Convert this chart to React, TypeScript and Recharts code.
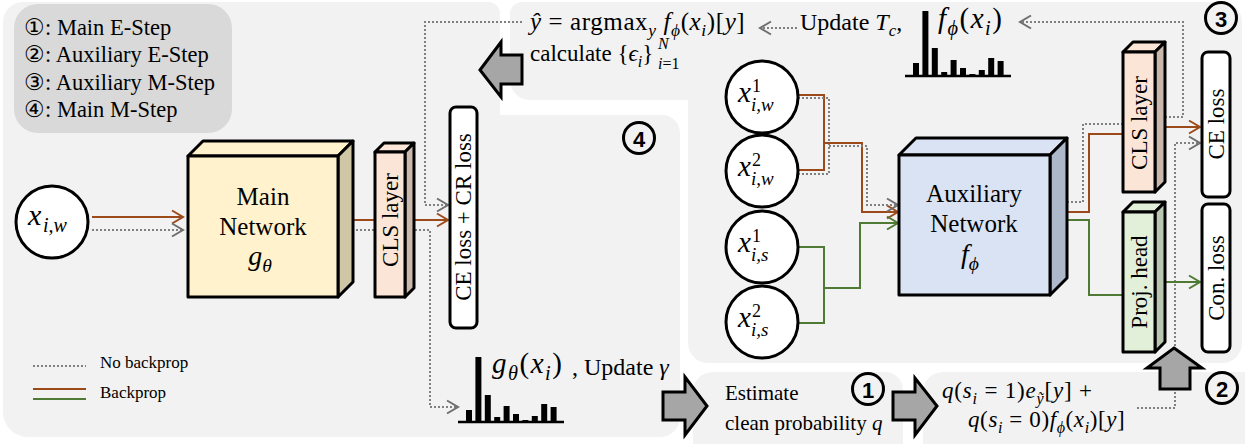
import { BarChart, Bar, XAxis, YAxis } from 'recharts';

// histogram data (class index -> probability, arbitrary units)
const HIST_CLASSES = ['c1', 'c2', 'c3', 'c4', 'c5', 'c6', 'c7', 'c8', 'c9', 'c10'];
const F_PHI_PROBS = [13, 65, 28, 4, 16, 8, 2, 6, 18, 15];
const G_THETA_PROBS = [12, 65, 27, 5, 16, 8, 2, 6, 18, 15];

const STEP_LABELS = ['①: Main E-Step', '②: Auxiliary E-Step', '③: Auxiliary M-Step', '④: Main M-Step'];
const LINE_LABELS = ['No backprop', 'Backprop'];

const SERIF = '"Liberation Serif", "DejaVu Serif", serif';
const BROWN = '#9c4a1a';
const GREEN = '#4f7a33';
const DOT = '#808080';
const PANEL = '#f2f2f2';

type Pt = [number, number];
type Part = { t: string; it?: boolean; sub?: boolean; sup?: boolean };

function MathText({ x, y, size, parts, anchor, spacing = 0 }: { x: number; y: number; size: number; parts: Part[]; anchor?: 'start' | 'middle' | 'end'; spacing?: number }) {
  let cur = 0;
  return (
    <text x={x} y={y} fontSize={size} textAnchor={anchor || 'start'} fill="#000" letterSpacing={spacing} style={{ fontFamily: SERIF }}>
      {parts.map((p, i) => {
        const target = p.sub ? size * 0.25 : p.sup ? -size * 0.38 : 0;
        const dy = target - cur;
        cur = target;
        return (
          <tspan key={i} dy={dy} fontStyle={p.it ? 'italic' : 'normal'} fontSize={p.sub || p.sup ? size * 0.7 : size}>
            {p.t}
          </tspan>
        );
      })}
    </text>
  );
}

function Wire({ pts, color, dotted, head }: { pts: Pt[]; color: string; dotted?: boolean; head?: boolean }) {
  const d = pts.map((p, i) => `${i ? 'L' : 'M'}${p[0]},${p[1]}`).join(' ');
  let arrow = null;
  if (head) {
    const [x1, y1] = pts[pts.length - 2];
    const [x2, y2] = pts[pts.length - 1];
    const len = Math.hypot(x2 - x1, y2 - y1) || 1;
    const ux = (x2 - x1) / len;
    const uy = (y2 - y1) / len;
    const px = -uy;
    const py = ux;
    const L = 11;
    const W = 6.5;
    arrow = (
      <polyline
        points={`${x2 - ux * L + px * W},${y2 - uy * L + py * W} ${x2},${y2} ${x2 - ux * L - px * W},${y2 - uy * L - py * W}`}
        fill="none"
        stroke={dotted ? '#6f6f6f' : color}
        strokeWidth={2}
      />
    );
  }
  return (
    <g>
      <path d={d} fill="none" stroke={color} strokeWidth={2} strokeDasharray={dotted ? '2 2' : undefined} />
      {arrow}
    </g>
  );
}

function Box3D({ x, y, w, h, d, front, side }: { x: number; y: number; w: number; h: number; d: number; front: string; side: string }) {
  const top = `${x},${y} ${x + d},${y - d} ${x + w + d},${y - d} ${x + w},${y}`;
  const sidePts = `${x + w},${y} ${x + w + d},${y - d} ${x + w + d},${y + h - d} ${x + w},${y + h}`;
  return (
    <g stroke="#000" strokeWidth={3} strokeLinejoin="round">
      <polygon points={top} fill={front} />
      <polygon points={sidePts} fill={side} />
      <rect x={x} y={y} width={w} height={h} fill={front} />
    </g>
  );
}

function Txt({ x, y, size, children, anchor }: { x: number; y: number; size: number; children: any; anchor?: 'start' | 'middle' | 'end' }) {
  return (
    <text x={x} y={y} fontSize={size} textAnchor={anchor || 'start'} style={{ fontFamily: SERIF }}>
      {children}
    </text>
  );
}

function VLabel({ cx, cy, text, size = 23 }: { cx: number; cy: number; text: string; size?: number }) {
  return (
    <text
      x={cx}
      y={cy}
      transform={`rotate(-90 ${cx} ${cy})`}
      textAnchor="middle"
      dominantBaseline="central"
      fontSize={size}
      style={{ fontFamily: SERIF }}
    >
      {text}
    </text>
  );
}

function Circled({ cx, cy, n }: { cx: number; cy: number; n: string }) {
  return (
    <g>
      <circle cx={cx} cy={cy} r={15.5} fill="none" stroke="#000" strokeWidth={3} />
      <text x={cx} y={cy + 1} textAnchor="middle" dominantBaseline="central" fontWeight="bold" fontSize={22} style={{ fontFamily: '"Liberation Sans", Arial, sans-serif' }}>
        {n}
      </text>
    </g>
  );
}

function Node({ cx, cy, sup, sub }: { cx: number; cy: number; sup?: string; sub: string }) {
  return (
    <g>
      <circle cx={cx} cy={cy} r={36} fill="#fff" stroke="#000" strokeWidth={3} />
      {sup ? (
        <g style={{ fontFamily: SERIF }} fontStyle="italic">
          <text x={cx - 24} y={cy + 5} fontSize={29}>x</text>
          <text x={cx - 10} y={cy - 5} fontSize={18} fontStyle="normal">{sup}</text>
          <text x={cx - 11} y={cy + 14} fontSize={19}>{sub}</text>
        </g>
      ) : (
        <g style={{ fontFamily: SERIF }} fontStyle="italic">
          <text x={cx - 24} y={cy + 3} fontSize={30}>x</text>
          <text x={cx - 9} y={cy + 10} fontSize={20}>{sub}</text>
        </g>
      )}
    </g>
  );
}

function Hist({ values, left, top }: { values: number[]; left: number; top: number }) {
  const data = HIST_CLASSES.map((c, i) => ({ c, v: values[i] }));
  return (
    <div style={{ position: 'absolute', left, top }}>
      <BarChart width={106} height={67} data={data} margin={{ top: 0, right: 0, bottom: 0, left: 0 }} barCategoryGap={0}>
        <XAxis dataKey="c" tick={false} tickLine={false} height={2} padding={{ left: 6, right: 6 }} axisLine={{ stroke: '#000', strokeWidth: 2.5 }} />
        <YAxis hide domain={[0, 65]} />
        <Bar dataKey="v" fill="#000" barSize={6} isAnimationActive={false} />
      </BarChart>
    </div>
  );
}

export default function App() {
  return (
    <div style={{ position: 'relative', width: 1245, height: 444, background: '#fff', overflow: 'hidden' }}>
      <style>{'body{margin:0}'}</style>
      <svg width={1245} height={444} style={{ position: 'absolute', left: 0, top: 0 }}>
        {/* panels */}
        <path d="M3,22 A20,20 0 0 1 23,2 H488 A12,12 0 0 1 500,14 V115 H662 A18,18 0 0 1 680,133 V417 A20,20 0 0 1 660,437 H28 A25,25 0 0 1 3,412 Z" fill={PANEL} />
        <path d="M510,14 A12,12 0 0 1 522,2 H1222 A20,20 0 0 1 1242,22 V343 A20,20 0 0 1 1222,363 H708 A20,20 0 0 1 688,343 V100 H530 A20,20 0 0 1 510,80 Z" fill={PANEL} />
        <path d="M713,372 H885 A18,18 0 0 1 903,390 V444 H693 V392 A20,20 0 0 1 713,372 Z" fill={PANEL} />
        <path d="M943,372 H1245 V444 H923 V392 A20,20 0 0 1 943,372 Z" fill={PANEL} />

        {/* step legend */}
        <rect x={14} y={4} width={218} height={129} rx={24} fill="#d9d9d9" />
        {STEP_LABELS.map((s, i) => (
          <Txt key={s} x={24} y={35 + i * 27.4} size={22.5}>
            {s}
          </Txt>
        ))}

        {/* line legend */}
        <Wire pts={[[33, 366], [86, 366]]} color={DOT} dotted />
        <line x1={33} y1={389} x2={86} y2={389} stroke={BROWN} strokeWidth={2} />
        <line x1={33} y1={399} x2={86} y2={399} stroke={GREEN} strokeWidth={2} />
        <Txt x={100} y={368} size={17}>{LINE_LABELS[0]}</Txt>
        <Txt x={100} y={398} size={17}>{LINE_LABELS[1]}</Txt>

        {/* main branch wires */}
        <Wire pts={[[92, 217], [183, 217]]} color={BROWN} head />
        <Wire pts={[[92, 230], [183, 230]]} color={DOT} dotted head />
        <Wire pts={[[352, 220], [375, 220]]} color={BROWN} />
        <Wire pts={[[352, 230], [375, 230]]} color={DOT} dotted />
        <Wire pts={[[415, 220], [448, 220]]} color={BROWN} head />
        <Wire pts={[[522, 22], [425, 22], [425, 205], [448, 205]]} color={DOT} dotted head />
        <Wire pts={[[415, 230], [430, 230], [430, 407], [458, 407]]} color={DOT} dotted head />

        {/* main network */}
        <Node cx={52} cy={222} sub="i,w" />
        <Box3D x={188} y={156} w={150} h={141} d={15} front="#fff2cc" side="#cfc6a6" />
        <Txt x={263} y={205} size={25} anchor="middle">Main</Txt>
        <Txt x={263} y={235} size={25} anchor="middle">Network</Txt>
        <MathText x={260} y={265} size={28} anchor="middle" parts={[{ t: 'g', it: true }, { t: 'θ', it: true, sub: true }]} />
        <Box3D x={375} y={152} w={30} h={145} d={9} front="#fbe5d6" side="#cbb8ad" />
        <VLabel cx={390} cy={220} text="CLS layer" />
        <rect x={450} y={107} width={27} height={221} rx={6} fill="#fff" stroke="#000" strokeWidth={3} />
        <VLabel cx={463.5} cy={217} text="CE loss + CR loss" />
        <Circled cx={639} cy={138} n="4" />

        {/* top formula */}
        <MathText
          x={530}
          y={30}
          size={25}
          spacing={0.6}
          parts={[
            { t: 'ŷ', it: true },
            { t: ' = argmax' },
            { t: 'y', it: true, sub: true },
            { t: ' ' },
            { t: 'f', it: true },
            { t: 'ϕ', it: true, sub: true },
            { t: '(' },
            { t: 'x', it: true },
            { t: 'i', it: true, sub: true },
            { t: ')[' },
            { t: 'y', it: true },
            { t: ']' },
          ]}
        />
        <MathText x={530} y={61} size={23} parts={[{ t: 'calculate {' }, { t: 'ϵ', it: true }, { t: 'i', it: true, sub: true }, { t: '}' }]} />
        <text x={658} y={49} fontStyle="italic" fontSize={16} style={{ fontFamily: SERIF }}>N</text>
        <text x={658} y={69} fontSize={16} style={{ fontFamily: SERIF }}>
          <tspan fontStyle="italic">i</tspan>=1
        </text>
        <Wire pts={[[797, 28], [760, 28]]} color={DOT} dotted head />
        <MathText x={800} y={30} size={24} parts={[{ t: 'Update ' }, { t: 'T', it: true }, { t: 'c', it: true, sub: true }, { t: ',' }]} />
        <MathText
          x={938}
          y={28}
          size={29}
          spacing={1.5}
          parts={[{ t: 'f', it: true }, { t: 'ϕ', it: true, sub: true }, { t: '(' }, { t: 'x', it: true }, { t: 'i', it: true, sub: true }, { t: ')' }]}
        />
        <polygon points="480,70 501,42 501,55 522,55 522,84 501,84 501,97" fill="#a6a6a6" stroke="#000" strokeWidth={3} strokeLinejoin="miter" />

        {/* auxiliary wires */}
        <Wire pts={[[798, 95], [824, 95], [824, 170], [798, 170]]} color={BROWN} />
        <Wire pts={[[798, 98], [829, 98], [829, 174], [798, 174]]} color={DOT} dotted />
        <Wire pts={[[824, 143], [862, 143], [862, 212], [898, 212]]} color={BROWN} head />
        <Wire pts={[[829, 146], [867, 146], [867, 205], [898, 205]]} color={DOT} dotted head />
        <Wire pts={[[798, 247], [824, 247], [824, 323], [798, 323]]} color={GREEN} />
        <Wire pts={[[824, 288], [860, 288], [860, 223], [898, 223]]} color={GREEN} head />
        <Wire pts={[[1067, 202], [1083, 202], [1083, 124], [1123, 124]]} color={DOT} dotted />
        <Wire pts={[[1067, 212], [1089, 212], [1089, 134], [1123, 134]]} color={BROWN} />
        <Wire pts={[[1067, 220], [1089, 220], [1089, 295], [1123, 295]]} color={GREEN} />
        <Wire pts={[[1165, 117], [1183, 117], [1183, 22], [1020, 22]]} color={DOT} dotted head />
        <Wire pts={[[1165, 127], [1200, 127]]} color={BROWN} head />
        <Wire pts={[[1137, 408], [1175, 408], [1175, 143], [1200, 143]]} color={DOT} dotted head />
        <Wire pts={[[1165, 282], [1200, 282]]} color={GREEN} head />

        {/* auxiliary network */}
        <Node cx={762} cy={97} sup="1" sub="i,w" />
        <Node cx={762} cy={171} sup="2" sub="i,w" />
        <Node cx={762} cy={247} sup="1" sub="i,s" />
        <Node cx={762} cy={322} sup="2" sub="i,s" />
        <Box3D x={899} y={155} w={151} h={140} d={17} front="#dae3f3" side="#adb9ca" />
        <Txt x={974} y={202} size={25} anchor="middle">Auxiliary</Txt>
        <Txt x={974} y={232} size={25} anchor="middle">Network</Txt>
        <MathText x={970} y={263} size={28} anchor="middle" parts={[{ t: 'f', it: true }, { t: 'ϕ', it: true, sub: true }]} />
        <Box3D x={1123} y={52} w={32} h={140} d={10} front="#fbe5d6" side="#cbb8ad" />
        <VLabel cx={1139} cy={123} text="CLS layer" />
        <Box3D x={1123} y={212} w={32} h={140} d={10} front="#e2f0d9" side="#b9c7b0" />
        <VLabel cx={1139} cy={282} text="Proj. head" />
        <rect x={1202} y={52} width={28} height={145} rx={6} fill="#fff" stroke="#000" strokeWidth={3} />
        <VLabel cx={1216} cy={124} text="CE loss" />
        <rect x={1202} y={204} width={28} height={148} rx={6} fill="#fff" stroke="#000" strokeWidth={3} />
        <VLabel cx={1216} cy={278} text="Con. loss" />
        <Circled cx={1221} cy={18} n="3" />

        {/* bottom row */}
        <MathText
          x={492}
          y={373}
          size={29}
          spacing={1.5}
          parts={[{ t: 'g', it: true }, { t: 'θ', it: true, sub: true }, { t: '(' }, { t: 'x', it: true }, { t: 'i', it: true, sub: true }, { t: ')' }]}
        />
        <MathText x={572} y={375} size={24} parts={[{ t: ', Update ' }, { t: 'γ', it: true }]} />
        <polygon points="663,392 685,392 685,377 707,406 685,435 685,420 663,420" fill="#a6a6a6" stroke="#000" strokeWidth={3} />
        <Txt x={725} y={400} size={21}>Estimate</Txt>
        <MathText x={725} y={430} size={21} parts={[{ t: 'clean probability ' }, { t: 'q', it: true }]} />
        <Circled cx={868} cy={389} n="1" />
        <polygon points="893,392 915,392 915,378 937,406 915,435 915,420 893,420" fill="#a6a6a6" stroke="#000" strokeWidth={3} />
        <MathText
          x={942}
          y={398}
          size={23}
          spacing={0.8}
          parts={[
            { t: 'q', it: true },
            { t: '(' },
            { t: 's', it: true },
            { t: 'i', it: true, sub: true },
            { t: ' = 1)' },
            { t: 'e', it: true },
            { t: 'ỹ', it: true, sub: true },
            { t: '[' },
            { t: 'y', it: true },
            { t: '] +' },
          ]}
        />
        <MathText
          x={968}
          y={427}
          size={23}
          spacing={0.6}
          parts={[
            { t: 'q', it: true },
            { t: '(' },
            { t: 's', it: true },
            { t: 'i', it: true, sub: true },
            { t: ' = 0)' },
            { t: 'f', it: true },
            { t: 'ϕ', it: true, sub: true },
            { t: '(' },
            { t: 'x', it: true },
            { t: 'i', it: true, sub: true },
            { t: ')[' },
            { t: 'y', it: true },
            { t: ']' },
          ]}
        />
        <polygon points="1174,348 1202,368 1190,368 1190,389 1160,389 1160,368 1147,368" fill="#a6a6a6" stroke="#000" strokeWidth={3} />
        <Circled cx={1222} cy={388} n="2" />
      </svg>
      <Hist values={F_PHI_PROBS} left={905} top={11} />
      <Hist values={G_THETA_PROBS} left={458} top={357} />
    </div>
  );
}
